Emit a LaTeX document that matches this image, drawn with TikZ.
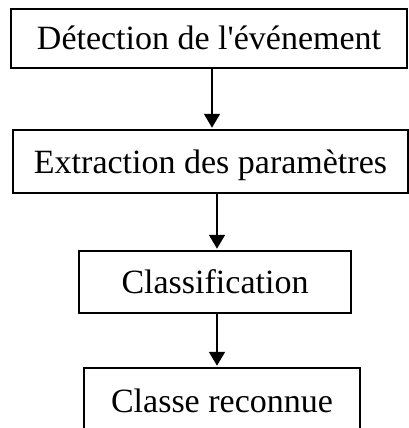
\documentclass[tikz,border=0pt]{standalone}
\usepackage{fontspec}
\setmainfont{Liberation Serif}
\usetikzlibrary{arrows.meta}

\tikzset{
  etape/.style={draw, line width=1.5pt, inner sep=0pt, text height=23pt, text depth=0pt,
    font=\fontsize{34}{40}\selectfont},
  fleche/.style={line width=1.8pt, shorten >=1.5pt, -{Triangle[width=16pt,length=14pt]}}
}

\begin{document}
\begin{tikzpicture}[x=1pt,y=-1pt]
\useasboundingbox (0,0) rectangle (408,428);
% les quatre etapes
\node[etape, minimum width=396pt, minimum height=59pt] (detection) at (209,38.5) {Détection de l{\textquotesingle}événement};
\node[etape, minimum width=395pt, minimum height=63pt] (extraction) at (210.5,161.5) {Extraction des paramètres};
\node[etape, minimum width=272pt, minimum height=62pt] (classif) at (215,282) {Classification};
\node[etape, minimum width=276pt, minimum height=66pt] (classe) at (222,401) {Classe reconnue};
% fleches
\coordinate (f1) at (212,0);
\coordinate (f2) at (217,0);
\draw[fleche] (detection.south -| f1) -- (extraction.north -| f1);
\draw[fleche] (extraction.south -| f2) -- (classif.north -| f2);
\draw[fleche] (classif.south -| f2) -- (classe.north -| f2);
\end{tikzpicture}
\end{document}
